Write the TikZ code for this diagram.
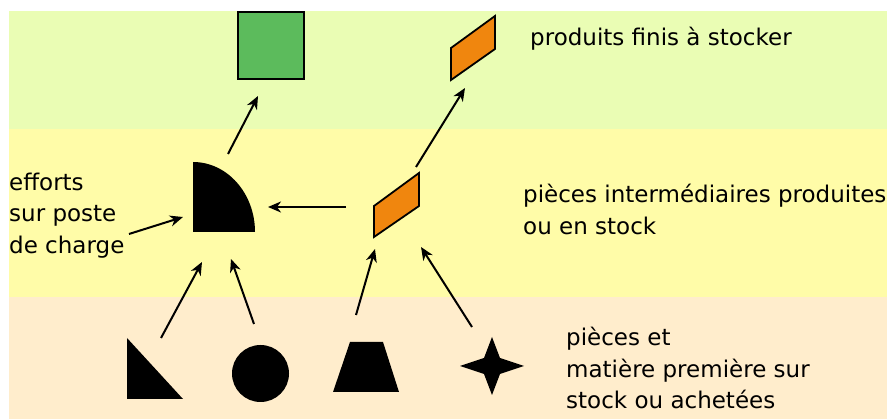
\documentclass[tikz,border=0pt]{standalone}
\usepackage{fontspec}
\setmainfont{DejaVu Sans}
\usepackage{tikz}
\usetikzlibrary{positioning, arrows.meta}

\definecolor{bandvert}{HTML}{EAFDB4}
\definecolor{bandjaune}{HTML}{FFFCA8}
\definecolor{bandpeche}{HTML}{FFEDCC}
\definecolor{vertfini}{HTML}{5CBB5C}
\definecolor{orangestock}{HTML}{F0860E}

\begin{document}
\begin{tikzpicture}[x=1pt, y=-1pt,
      piece/.style={fill=black, draw=none},
      stock/.style={draw=black, line width=1.8pt, fill=orangestock},
      fleche/.style={-{Stealth[length=13pt, width=11pt, inset=4pt]}, line width=2pt},
      lbl/.style={inner sep=0pt, anchor=base west,
          font=\fontsize{23}{31}\selectfont, text=black}
    ]
    \useasboundingbox (0,0) rectangle (887,419);

    % ── Bands ──
    \fill[bandvert]  (9,11)  rectangle (887,129);
    \fill[bandjaune] (9,129) rectangle (887,297);
    \fill[bandpeche] (9,297) rectangle (887,419);

    % ── Finished products (top band) ──
    \node[draw=black, line width=1.8pt, fill=vertfini,
      minimum width=66pt, minimum height=67pt, inner sep=0pt] (fini) at (271,45.5) {};
    \draw[stock] (451,48) -- (495,16) -- (495,49) -- (451,80) -- cycle;

    % ── Intermediate parts (middle band) ──
    \draw[piece] (193,232) -- (193,162) arc[start angle=-90, end angle=0,
      x radius=62, y radius=70] -- cycle;
    \draw[stock] (374,206) -- (419,173) -- (419,206) -- (374,237) -- cycle;

    % ── Raw parts (bottom band) ──
    \fill[piece] (127,338) -- (183,399) -- (127,399) -- cycle;
    \node[circle, piece, minimum size=57pt, inner sep=0pt] (rond) at (260.5,373.5) {};
    \fill[piece] (350,342) -- (383,342) -- (399,392) -- (333,392) -- cycle;
    \fill[piece] (524,366) -- (500,358) -- (492,337) -- (484,358) -- (460,366)
      -- (484,374) -- (492,395) -- (500,374) -- cycle;

    % ── Arrow ends ──
    \coordinate (tri-out)   at (161,338);
    \coordinate (rond-out)  at (254,324);
    \coordinate (trap-out)  at (356,315);
    \coordinate (etoi-out)  at (472,327);
    \coordinate (poste-in1) at (202,262);
    \coordinate (poste-in2) at (231,259);
    \coordinate (inter-in1) at (375,249);
    \coordinate (inter-in2) at (421,247);
    \coordinate (inter-out) at (346,207);
    \coordinate (poste-in3) at (268,207);
    \coordinate (eff-out)   at (129,234);
    \coordinate (poste-in4) at (183,217);
    \coordinate (poste-out) at (228,154);
    \coordinate (fini-in)   at (258,96);
    \coordinate (inter-up)  at (416,167);
    \coordinate (stock-in)  at (465,88);

    \draw[fleche] (tri-out)   -- (poste-in1);
    \draw[fleche] (rond-out)  -- (poste-in2);
    \draw[fleche] (trap-out)  -- (inter-in1);
    \draw[fleche] (etoi-out)  -- (inter-in2);
    \draw[fleche] (inter-out) -- (poste-in3);
    \draw[fleche] (eff-out)   -- (poste-in4);
    \draw[fleche] (poste-out) -- (fini-in);
    \draw[fleche] (inter-up)  -- (stock-in);

    % ── Labels ──
    \node[lbl] (eff1) at (9,191) {efforts};
    \node[lbl, below=31pt of eff1.base west, anchor=base west] (eff2) {sur poste};
    \node[lbl, below=32pt of eff2.base west, anchor=base west] (eff3) {de charge};

    \node[lbl] (fin1) at (530,46) {produits finis à stocker};

    \node[lbl] (int1) at (523,203) {pièces intermédiaires produites};
    \node[lbl, below=32pt of int1.base west, anchor=base west] (int2) {ou en stock};

    \node[lbl] (mat1) at (566,346) {pièces et};
    \node[lbl, below=32pt of mat1.base west, anchor=base west] (mat2) {matière première sur};
    \node[lbl, below=31pt of mat2.base west, anchor=base west] (mat3) {stock ou achetées};

  \end{tikzpicture}
\end{document}
